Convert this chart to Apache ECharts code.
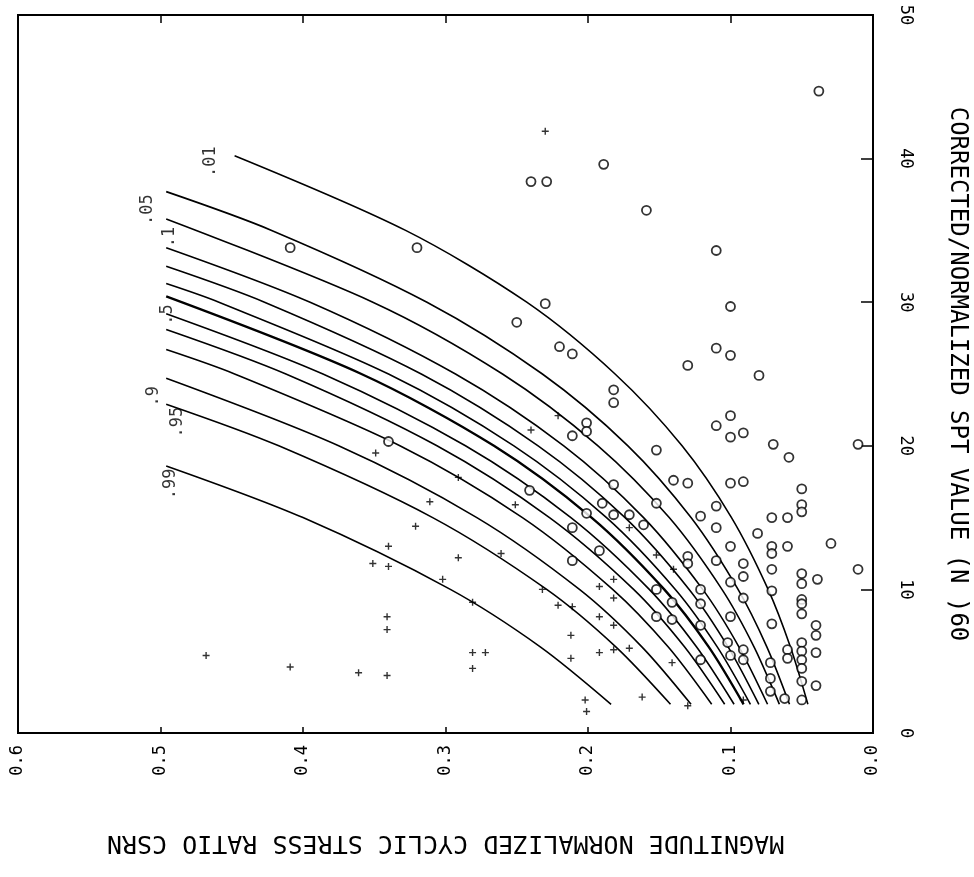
<!DOCTYPE html>
<html><head><meta charset="utf-8">
<script src="https://cdn.jsdelivr.net/npm/echarts@6/dist/echarts.min.js"></script>
<style>html,body{margin:0;padding:0;background:#fff}#c{width:974px;height:877px}</style>
</head><body><div id="c"></div>
<script>
// ---- tick labels ----
const csrTickLabels = ['0.0','0.1','0.2','0.3','0.4','0.5','0.6'];
const sptTickLabels = ['0','10','20','30','40','50'];

// ---- probability curves: [CSRN, (N1)60] ----
const curveNames = ['.01','.05','.1','.2','.3','.4','.5','.6','.7','.8','.9','.95','.99'];
const labeledCurves = ['.01','.05','.1','.5','.9','.95','.99'];
const c01 = [[0.448,40.2],[0.328,35],[0.243,30],[0.181,25],[0.134,20],[0.0993,15],[0.0736,10],[0.0580,6],[0.0457,2]];
const c05 = [[0.496,37.7],[0.422,35],[0.313,30],[0.232,25],[0.172,20],[0.1277,15],[0.0947,10],[0.0745,6],[0.0586,2]];
const c10 = [[0.496,35.8],[0.351,30],[0.260,25],[0.193,20],[0.143,15],[0.106,10],[0.0835,6],[0.0657,2]];
const c20 = [[0.496,33.8],[0.395,30],[0.293,25],[0.217,20],[0.161,15],[0.1195,10],[0.0941,6],[0.0740,2]];
const c30 = [[0.496,32.5],[0.427,30],[0.317,25],[0.235,20],[0.174,15],[0.129,10],[0.1017,6],[0.0801,2]];
const c40 = [[0.496,31.3],[0.459,30],[0.340,25],[0.252,20],[0.187,15],[0.1387,10],[0.1093,6],[0.0860,2]];
const c50 = [[0.496,30.4],[0.359,25],[0.266,20],[0.1975,15],[0.1465,10],[0.1153,6],[0.0908,2]];
const c60 = [[0.496,29.2],[0.386,25],[0.286,20],[0.212,15],[0.157,10],[0.1239,6],[0.0975,2]];
const c70 = [[0.496,28.1],[0.412,25],[0.306,20],[0.227,15],[0.168,10],[0.1323,6],[0.1041,2]];
const c80 = [[0.496,26.7],[0.448,25],[0.332,20],[0.246,15],[0.1827,10],[0.1438,6],[0.1132,2]];
const c90 = [[0.496,24.7],[0.375,20],[0.278,15],[0.206,10],[0.1622,6],[0.1277,2]];
const c95 = [[0.496,22.9],[0.417,20],[0.309,15],[0.229,10],[0.1805,6],[0.1421,2]];
const c99 = [[0.496,18.6],[0.400,15],[0.2966,10],[0.2335,6],[0.1838,2]];

// ---- field cases ----
const circleCases = [
 [0.240,38.4],[0.229,38.4],[0.189,39.6],[0.038,44.7],[0.159,36.4],[0.409,33.8],[0.320,33.8],
 [0.230,29.9],[0.250,28.6],[0.220,26.9],[0.211,26.4],[0.182,23.9],[0.182,23.0],[0.201,21.6],
 [0.201,21.0],[0.211,20.7],[0.340,20.3],[0.110,33.6],[0.100,29.7],[0.110,26.8],[0.100,26.3],
 [0.130,25.6],[0.080,24.9],[0.100,22.1],[0.110,21.4],[0.100,20.6],[0.091,20.9],[0.070,20.1],
 [0.059,19.2],[0.152,19.7],[0.0105,20.1],
 [0.182,17.3],[0.140,17.6],[0.130,17.4],[0.100,17.4],[0.091,17.5],[0.050,17.0],[0.050,15.9],
 [0.050,15.4],[0.190,16.0],[0.152,16.0],[0.110,15.8],[0.121,15.1],[0.071,15.0],[0.060,15.0],
 [0.182,15.2],[0.171,15.2],[0.161,14.5],[0.110,14.3],[0.081,13.9],[0.0295,13.2],[0.100,13.0],
 [0.071,13.0],[0.060,13.0],[0.071,12.5],[0.130,12.3],[0.130,11.8],[0.110,12.0],[0.091,11.8],
 [0.091,10.9],[0.071,11.4],[0.050,11.1],[0.050,10.4],[0.039,10.7],[0.0105,11.4],[0.100,10.5],
 [0.121,10.0],[0.152,10.0],[0.071,9.9],[0.091,9.4],[0.050,9.3],[0.050,9.0],[0.141,9.1],
 [0.121,9.0],[0.050,8.3],[0.100,8.1],[0.152,8.1],[0.141,7.9],[0.071,7.6],[0.040,7.5],
 [0.040,6.8],[0.121,7.5],[0.050,6.3],[0.102,6.3],[0.091,5.8],[0.100,5.4],[0.060,5.8],
 [0.050,5.7],[0.040,5.6],[0.121,5.1],[0.091,5.1],[0.072,4.9],[0.060,5.2],[0.050,5.1],
 [0.050,4.5],[0.072,3.8],[0.050,3.6],[0.040,3.3],[0.072,2.9],[0.062,2.4],[0.050,2.3],
 [0.241,16.9],[0.201,15.3],[0.211,14.3],[0.192,12.7],[0.211,12.0]
];
const plusCases = [
 [0.230,41.9],[0.221,22.1],[0.240,21.1],[0.349,19.5],[0.291,17.8],[0.468,5.4],[0.409,4.6],
 [0.311,16.1],[0.251,15.9],[0.321,14.4],[0.340,13.0],[0.351,11.8],[0.340,11.6],[0.291,12.2],
 [0.261,12.5],[0.302,10.7],[0.281,9.1],[0.232,10.0],[0.221,8.9],[0.211,8.8],[0.192,10.2],
 [0.192,8.1],[0.212,6.8],[0.192,5.6],[0.212,5.2],[0.341,8.1],[0.341,7.2],[0.281,5.6],
 [0.272,5.6],[0.281,4.5],[0.361,4.2],[0.341,4.0],[0.202,2.3],[0.201,1.5],[0.171,14.3],
 [0.152,12.4],[0.140,11.4],[0.182,10.7],[0.182,9.4],[0.182,7.5],[0.171,5.9],[0.182,5.8],
 [0.141,4.9],[0.162,2.5],[0.130,1.9],[0.091,2.3]
];

// ---- styles ----
const FONT = 'DejaVu Sans Mono';
const curveData = [c01,c05,c10,c20,c30,c40,c50,c60,c70,c80,c90,c95,c99];
const curveLabelOffset = {'.01':[-6,-24],'.05':[-18,-19],'.1':[-18,3],'.5':[-18,1],'.9':[-18,-13],'.95':[-18,11],'.99':[-18,4]};
const plusPath = 'path://M4,0h2v10h-2z M0,4h10v2h-10z';

const series = [];
curveData.forEach((d, i) => {
  series.push({
    type: 'line', name: curveNames[i], data: d, smooth: 0.3, showSymbol: false,
    lineStyle: {color: '#000', width: curveNames[i] === '.5' ? 2.4 : 1.6},
    silent: true, z: 2
  });
});
series.push({
  type: 'scatter', name: 'curveLabels', silent: true, symbolSize: 0,
  data: labeledCurves.map(n => {
    const d = curveData[curveNames.indexOf(n)][0];
    return {value: d, label: {show: true, formatter: n, position: 'inside', rotate: 90,
      offset: curveLabelOffset[n], color: '#000', fontFamily: FONT, fontSize: 17}};
  }), z: 3
});
series.push({
  type: 'scatter', name: 'circles', data: circleCases, symbol: 'circle', symbolSize: 9,
  itemStyle: {color: '#fff', borderColor: '#000', borderWidth: 1.8}, z: 4
});
series.push({
  type: 'scatter', name: 'plus', data: plusCases, symbol: plusPath, symbolSize: 7,
  itemStyle: {color: '#000'}, z: 4
});

const chart = echarts.init(document.getElementById('c'));
chart.setOption({
  animation: false,
  backgroundColor: '#fff',
  grid: {left: 18, right: 101, top: 15, bottom: 144, show: true, borderColor: '#000', borderWidth: 2,
    containLabel: false, outerBoundsMode: 'none'},
  xAxis: [{
    type: 'value', min: 0, max: 0.6, interval: 0.1, inverse: true, position: 'bottom',
    axisLine: {show: true, lineStyle: {color: '#000', width: 2}},
    axisTick: {show: true, inside: true, length: 6, lineStyle: {color: '#000', width: 1.5}},
    splitLine: {show: false},
    axisLabel: {rotate: 90, margin: 12, color: '#000', fontFamily: FONT, fontSize: 17,
      formatter: v => csrTickLabels[Math.round(v * 10)]},
    name: 'MAGNITUDE NORMALIZED CYCLIC STRESS RATIO CSRN', nameLocation: 'middle', nameRotate: 180,
    nameGap: 97, nameTextStyle: {color: '#000', fontFamily: FONT, fontSize: 25}
  }, {
    type: 'value', min: 0, max: 0.6, interval: 0.1, inverse: true, position: 'top',
    axisLine: {show: true, lineStyle: {color: '#000', width: 2}},
    axisTick: {show: true, inside: true, length: 8, lineStyle: {color: '#000', width: 1.5}},
    axisLabel: {show: false}, splitLine: {show: false}
  }],
  yAxis: [{
    type: 'value', min: 0, max: 50, interval: 10, position: 'right',
    axisLine: {show: true, lineStyle: {color: '#000', width: 2}},
    axisTick: {show: true, inside: true, length: 12, lineStyle: {color: '#000', width: 1.5}},
    splitLine: {show: false},
    axisLabel: {rotate: -90, margin: 24, color: '#000', fontFamily: FONT, fontSize: 17,
      formatter: v => sptTickLabels[Math.round(v / 10)]},
    name: 'CORRECTED/NORMALIZED SPT VALUE (N )60', nameLocation: 'middle', nameRotate: -90,
    nameGap: 72, nameTextStyle: {color: '#000', fontFamily: FONT, fontSize: 24}
  }],
  series: series
});
</script></body></html>
